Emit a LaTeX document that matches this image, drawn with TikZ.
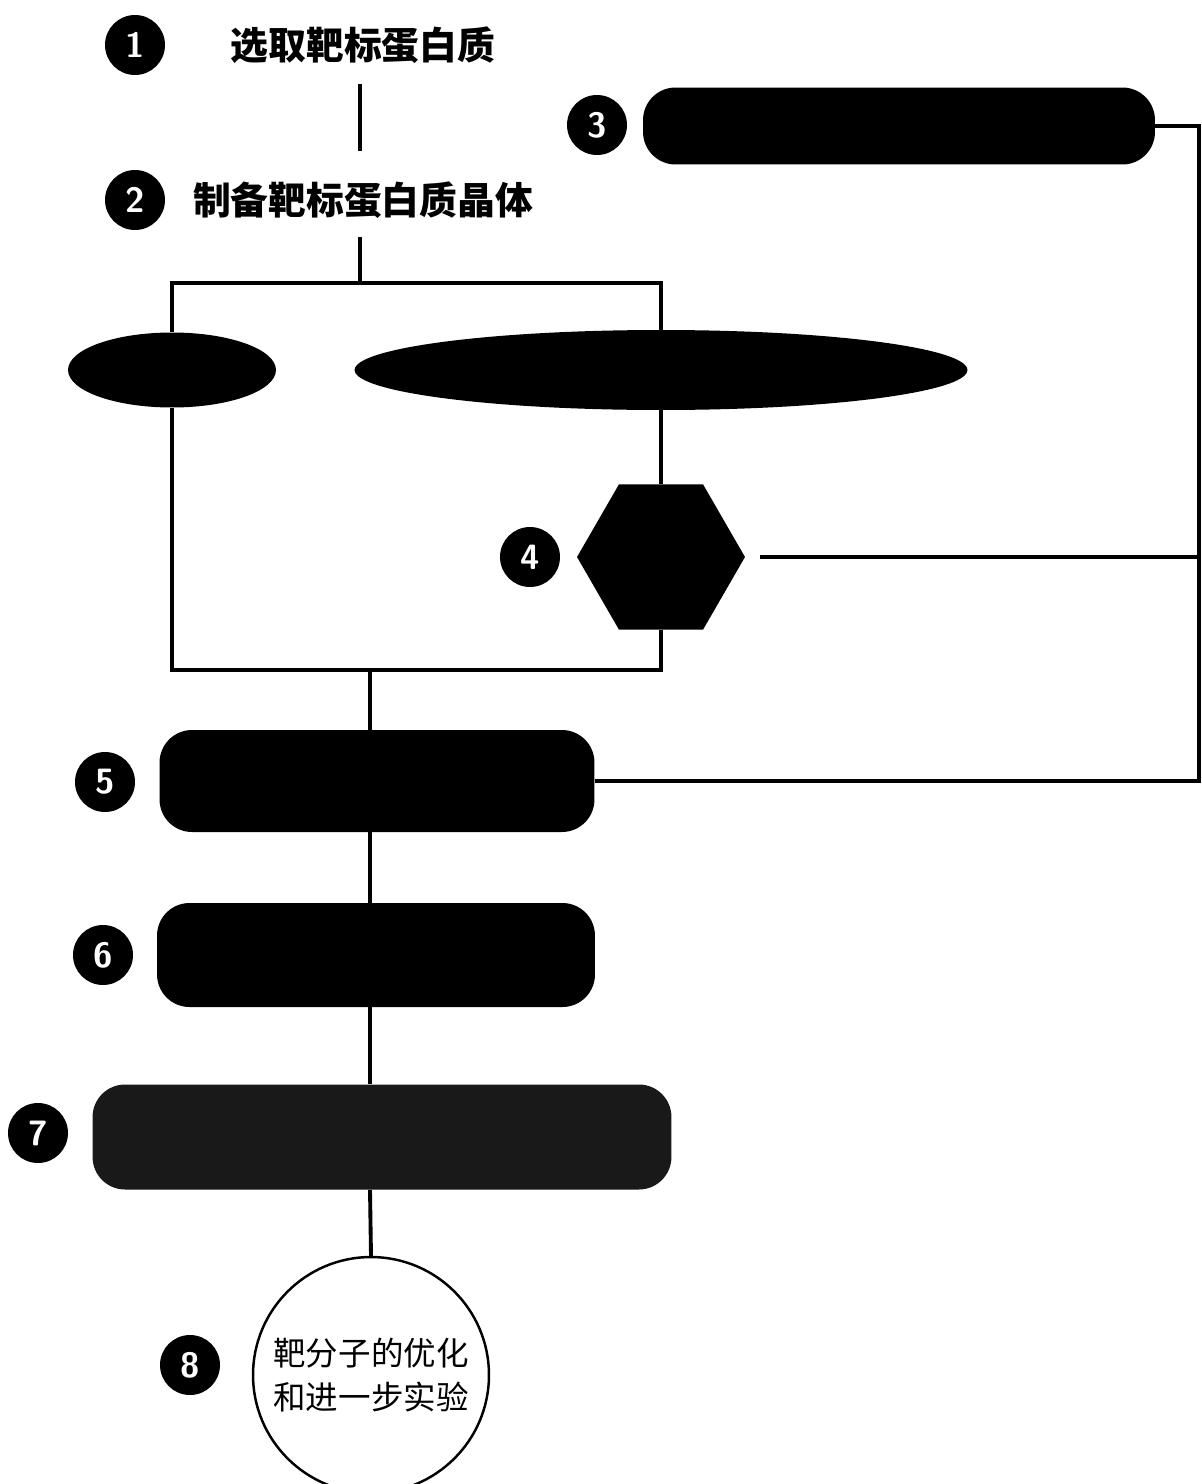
\documentclass[tikz,border=0pt]{standalone}
\usepackage{fontspec}
\newfontfamily\cjk{Noto Sans CJK SC}
\usepackage{tikz}
\usetikzlibrary{shapes.geometric, calc}
\tikzstyle{badge} = [circle, fill=black, text=white, minimum size=1.2cm, inner sep=0pt,
  font=\sffamily\bfseries\fontsize{20}{20}\selectfont]
\tikzstyle{title} = [font=\cjk\bfseries\fontsize{21.5}{24}\selectfont, inner sep=0pt]
\tikzstyle{bar} = [rectangle, fill=black, rounded corners=0.65cm]
\tikzstyle{oval} = [ellipse, fill=black, inner sep=0pt]
\tikzstyle{link} = [line width=2.2pt]

\begin{document}
\begin{tikzpicture}[x=0.02cm, y=-0.02cm]
    \useasboundingbox (0,0) rectangle (1201,1484);
    % steps
    \node[title] (t1) at (363,45) {选取靶标蛋白质};
    \node[title] (t2) at (363,200) {制备靶标蛋白质晶体};
    \node[bar, minimum width=10.24cm, minimum height=1.54cm] (b3) at (899,126) {};
    \node[oval, minimum width=4.16cm, minimum height=1.5cm] (e1) at (172,370) {};
    \node[oval, minimum width=12.26cm, minimum height=1.6cm] (e2) at (661,370) {};
    \node[regular polygon, regular polygon sides=6, fill=black, inner sep=0pt,
      minimum size=3.36cm] (hex) at (661,557) {};
    \node[bar, minimum width=8.7cm, minimum height=2.04cm] (b5) at (377,781) {};
    \node[bar, minimum width=8.76cm, minimum height=2.08cm] (b6) at (376,955) {};
    \node[bar, fill=black!90, minimum width=11.58cm, minimum height=2.1cm] (b7) at (382,1137) {};
    \node[circle, draw, line width=1.4pt, fill=white, minimum size=4.72cm, inner sep=0pt,
      align=center, font=\cjk\fontsize{18.5}{25}\selectfont] (c8) at (371,1375)
      {靶分子的优化\\和进一步实验};
    % numbers
    \node[badge] (n1) at (135,45) {1};
    \node[badge] (n2) at (135,200) {2};
    \node[badge] (n3) at (597,125) {3};
    \node[badge] (n4) at (530,557) {4};
    \node[badge] (n5) at (105,782) {5};
    \node[badge] (n6) at (103,955) {6};
    \node[badge] (n7) at (38,1133) {7};
    \node[badge] (n8) at (190,1365) {8};
    % connectors
    \coordinate (j1) at (360,283);
    \coordinate (j2) at (370,670);
    \coordinate (rb) at (1199,781);
    \draw[link] ($(t1.south -| j1)+(0,20)$) -- ($(t2.north -| j1)+(0,-30)$);
    \draw[link] ($(t2.south -| j1)+(0,18)$) -- (j1);
    \draw[link] (e1.north) |- (j1) -| (e2.north);
    \draw[link] (e1.south) |- (j2) -| (hex.south);
    \draw[link] (e2.south) -- (hex.north);
    \draw[link] (j2) -- (j2 |- b5.north);
    \draw[link] (b3.east) -| (rb) -- (rb -| b5.east);
    \draw[link] ($(hex.east)+(15,0)$) -- (hex.east -| rb);
    \draw[link] (j2 |- b5.south) -- (j2 |- b6.north);
    \draw[link] (j2 |- b6.south) -- (j2 |- b7.north);
    \draw[link] (j2 |- b7.south) -- (c8.north);
  \end{tikzpicture}
\end{document}
